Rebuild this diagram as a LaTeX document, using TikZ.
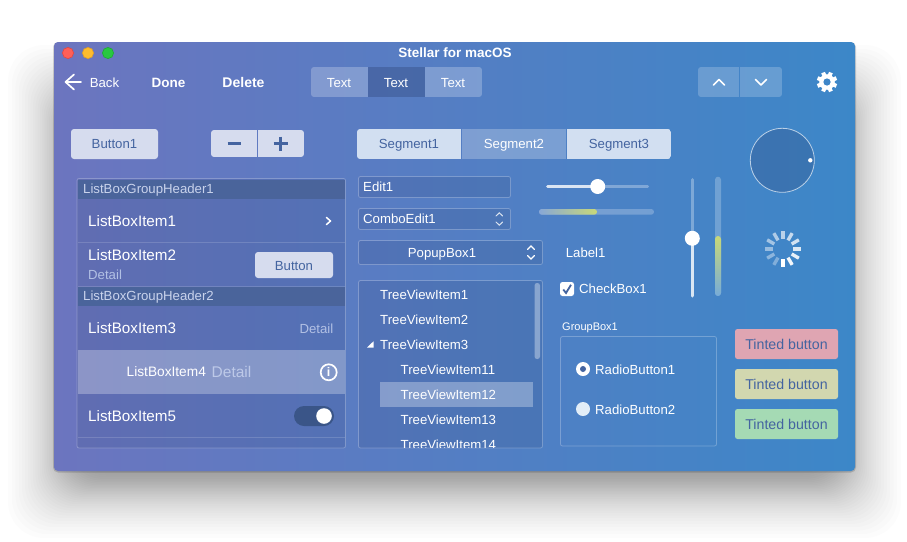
\documentclass[tikz,border=0pt]{standalone}
\usepackage{fontspec}
\setmainfont{Liberation Sans}
\usetikzlibrary{calc}

\definecolor{winleft}{RGB}{108,117,191}
\definecolor{winright}{RGB}{60,135,200}
\definecolor{inkblue}{RGB}{68,100,160}
\definecolor{paleface}{RGB}{214,220,238}
\definecolor{paleseg}{RGB}{210,223,241}
\definecolor{dimtext}{RGB}{178,192,228}
\definecolor{headfill}{RGB}{74,100,155}
\definecolor{limegreen}{RGB}{200,216,120}
\definecolor{duskfill}{RGB}{45,65,115}

\tikzset{
	txt/.style={inner sep=0pt,text=white,font=\fontsize{15.2}{17}\selectfont},
	txtsmall/.style={inner sep=0pt,text=white,font=\fontsize{13.2}{15}\selectfont},
	txtink/.style={txtsmall,text=inkblue},
	txtdim/.style={txtsmall,text=dimtext},
	txthead/.style={txtsmall,text=dimtext!70!white},
	txttiny/.style={inner sep=0pt,text=white,font=\fontsize{11}{12}\selectfont},
	txtbold/.style={inner sep=0pt,text=white,font=\fontsize{13.5}{15}\selectfont\bfseries},
	panel/.style={fill=duskfill,fill opacity=.16,draw=white,draw opacity=.25,line width=.8pt,rounded corners=2pt},
	rule/.style={draw=white,draw opacity=.15,line width=.7pt},
	stroke/.style={white,line width=1.5pt,line cap=round,line join=round},
	knob/.style={circle,fill=white,inner sep=0pt,minimum size=15pt},
}

\begin{document}
\begin{tikzpicture}[x=1pt,y=-1pt]

\useasboundingbox (0,0) rectangle (907,541);
\fill[white] (0,0) rectangle (907,541);

% soft shadow under the window
\foreach \i in {0,...,44}
{
	\pgfmathsetmacro{\u}{2*\i/44-1}
	\pgfmathsetmacro{\d}{32*\u+18*\u*\u*\u}
	\fill[black,opacity=.0118,rounded corners=36pt] ({58-\d},{95-\d}) rectangle ({851+\d},{488+\d});
}
\fill[black,opacity=.15,rounded corners=5pt] (53,42) rectangle (856,472.5);

% window
\shade[rounded corners=4pt,left color=winleft,right color=winright] (54,42) rectangle (855,471);
\foreach \x/\col/\edge in {68/255 95 87/225 70 65,88/254 188 46/225 160 40,108/40 200 64/30 170 50}
{
	\definecolor{tmpfill}{RGB}{\col}
	\definecolor{tmpedge}{RGB}{\edge}
	\fill[tmpfill,draw=tmpedge,line width=.6pt] (\x,53) circle (5.6);
}
\node[txtbold,anchor=base] (title) at (455,57.5) {Stellar for macOS};

% toolbar
\draw[stroke,line width=1.7pt] (81,82) -- (65.5,82) (74,74.5) -- (65.5,82) -- (74,89.5);
\node[txtsmall,anchor=base] (back) at (104.5,87) {Back};
\node[txtbold,anchor=base] (done) at (168.5,87) {Done};
\node[txtbold,font=\fontsize{14}{15}\selectfont\bfseries,anchor=base] (delete) at (243.5,87) {Delete};

\begin{scope}
\clip[rounded corners=3pt] (311,67) rectangle (482,97);
\fill[white,opacity=.24] (311,67) rectangle (367.5,97);
\fill[duskfill,opacity=.35] (368,67) rectangle (424.5,97);
\fill[white,opacity=.24] (425,67) rectangle (482,97);
\end{scope}
\foreach \x/\n in {339/a,396/b,453/c}
	\node[txtsmall,anchor=base] (text\n) at (\x,87) {Text};

\begin{scope}
\clip[rounded corners=3pt] (698,67) rectangle (782,97);
\fill[white,opacity=.2] (698,67) rectangle (739,97);
\fill[white,opacity=.2] (739.7,67) rectangle (782,97);
\end{scope}
\draw[stroke] (713.5,85) -- (719,79.5) -- (724.5,85);
\draw[stroke] (755.5,79.5) -- (761,85) -- (766.5,79.5);

% gear
\foreach \a in {0,45,...,315}
{
	\draw[white,line width=4pt] (827,82) -- ++(\a+22.5:10.2);
}
\fill[white] (827,82) circle (7.8);
\fill[winright!96!winleft] (827,82) circle (3.6);

% first row
\fill[paleface,rounded corners=3pt] (71,129) rectangle (158,159);
\node[txtink,anchor=base] (button1) at (114.5,148.5) {Button1};

\begin{scope}
\clip[rounded corners=3pt] (211,130) rectangle (304,157);
\fill[paleface] (211,130) rectangle (257,157);
\fill[paleface] (257.7,130) rectangle (304,157);
\end{scope}
\draw[inkblue,line width=3pt] (227.5,143.5) -- (241,143.5);
\draw[inkblue,line width=3pt] (273.5,143.5) -- (287.5,143.5) (280.5,136.5) -- (280.5,150.5);

\begin{scope}
\clip[rounded corners=3pt] (357,129) rectangle (671,159);
\fill[paleseg] (357,129) rectangle (461,159);
\fill[white,opacity=.25] (461.7,129) rectangle (566.3,159);
\fill[paleseg] (567,129) rectangle (671,159);
\end{scope}
\node[txtink,anchor=base] (segment1) at (409,148.5) {Segment1};
\node[txtsmall,anchor=base] (segment2) at (514,148.5) {Segment2};
\node[txtink,anchor=base] (segment3) at (619,148.5) {Segment3};

% list box
\draw[panel] (77,178.5) rectangle (345.5,448);
\fill[headfill] (78,179.5) rectangle (345,199);
\fill[headfill] (78,287) rectangle (345,306);
\node[txthead,anchor=base west] (header1) at (83,193.5) {ListBoxGroupHeader1};
\node[txthead,anchor=base west] (header2) at (83,300.5) {ListBoxGroupHeader2};
\foreach \y in {242.5,286.5,437.5}
	\draw[rule] (78,\y) -- (345,\y);
\fill[white,opacity=.28] (78,350) rectangle (344.5,394);

\node[txt,anchor=base west] (item1) at (88,226) {ListBoxItem1};
\draw[stroke] (326.5,217.5) -- (330.5,221) -- (326.5,224.5);
\node[txt,anchor=base west] (item2) at (88,260) {ListBoxItem2};
\node[txtdim,anchor=base west] (detail2) at (88,279) {Detail};
\fill[paleface,rounded corners=3pt] (255,252) rectangle (333,278);
\node[txtink,anchor=base] (button2) at (294,270) {Button};
\node[txt,anchor=base west] (item3) at (88,333) {ListBoxItem3};
\node[txtdim,anchor=base east] (detail3) at (333.5,333) {Detail};
\node[txtsmall,font=\fontsize{13.7}{15}\selectfont,anchor=base west] (item4) at (126.5,376.8) {ListBoxItem4};
\node[txt,text=dimtext!85!white,font=\fontsize{15.5}{17}\selectfont,anchor=base west] (detail4) at (211.5,377.5) {Detail};
\draw[white,line width=1.7pt] (328.7,372.3) circle (8);
\node[txtbold,font=\fontsize{12.5}{13}\selectfont\bfseries,anchor=base] (info) at (328.7,376.8) {i};
\node[txt,anchor=base west] (item5) at (88,421) {ListBoxItem5};
\fill[inkblue!85!black,rounded corners=10pt] (294,406) rectangle (334,426);
\fill[white] (324,416) circle (7.8);

% edits
\draw[panel] (358.5,176.5) rectangle (510.5,197.5);
\node[txtsmall,anchor=base west] (edit1) at (363,191.5) {Edit1};
\draw[panel] (358.5,208.5) rectangle (510.5,229.5);
\node[txtsmall,anchor=base west] (comboedit1) at (363,223.5) {ComboEdit1};
\draw[white,opacity=.8,line width=1pt,line cap=round] (496,216) -- (499.3,212.8) -- (502.6,216) (496,222) -- (499.3,225.2) -- (502.6,222);
\draw[panel] (358.5,240.5) rectangle (542.5,264.5);
\node[txtsmall,anchor=base] (popupbox1) at (442,257) {PopupBox1};
\draw[white,line width=1.2pt,line cap=round] (527.5,249.5) -- (531,246) -- (534.5,249.5) (527.5,255.5) -- (531,259) -- (534.5,255.5);

% tree view
\draw[panel] (358.5,280.5) rectangle (542.5,448);
\fill[white,opacity=.3] (380,382) rectangle (533,407);
\fill[white,opacity=.35,rounded corners=2.5pt] (534.5,283) rectangle (540,359);
\fill[white] (373.5,341.3) -- (373.5,347.5) -- (367,347.5) -- cycle;
\begin{scope}
\clip (359,281) rectangle (542,447.5);
\foreach \y/\n in {299/1,324/2,349/3}
	\node[txtsmall,anchor=base west] (tree\n) at (380,\y) {TreeViewItem\n};
\foreach \y/\n in {374/11,399/12,424/13,449/14}
	\node[txtsmall,anchor=base west] (tree\n) at (400.5,\y) {TreeViewItem\n};
\end{scope}

% sliders
\draw[white,opacity=.3,line width=3pt,line cap=round] (598,186.5) -- (647.5,186.5);
\draw[white,opacity=.8,line width=3pt,line cap=round] (547.5,186.5) -- (598,186.5);
\node[knob] (hknob) at (597.7,186.5) {};
\fill[white,opacity=.24,rounded corners=2.8pt] (539,209) rectangle (654,214.7);
\shade[rounded corners=2.8pt,left color=winright!55!white!70!winleft,right color=limegreen] (539,209) rectangle (597,214.7);

\draw[white,opacity=.3,line width=3pt,line cap=round] (692.3,179.5) -- (692.3,238);
\draw[white,opacity=.8,line width=3pt,line cap=round] (692.3,238) -- (692.3,296);
\node[knob] (vknob) at (692.3,238.3) {};
\fill[white,opacity=.24,rounded corners=3pt] (715,176.7) rectangle (721,296);
\shade[rounded corners=3pt,top color=limegreen,bottom color=winright!70!white] (715,236) rectangle (721,296);

% dial and spinner
\fill[duskfill,opacity=.25] (782.3,160.3) circle (32);
\draw[white,opacity=.65,line width=.8pt] (782.3,160.3) circle (32);
\fill[white] (810.3,160.3) circle (2.2);
\foreach \i in {0,...,11}
{
	\pgfmathsetmacro{\ang}{90-30*\i}
	\pgfmathsetmacro{\lev}{1-.06*\i}
	\draw[white,opacity=\lev,line width=3.4pt] (783,249) ++(\ang:10) -- ++(\ang:8.3);
}

% label and checkbox
\node[txtsmall,anchor=base] (label1) at (585.7,257) {Label1};
\fill[white,rounded corners=2.5pt] (560,282) rectangle (574,296);
\draw[inkblue,line width=1.8pt] (563.3,289.5) -- (566,293) -- (571,284.8);
\node[txtsmall,anchor=base west] (checkbox1) at (579,293.5) {CheckBox1};

% group box
\node[txttiny,anchor=base west] (groupbox1) at (562,330) {GroupBox1};
\draw[white,opacity=.25,line width=.8pt,rounded corners=2pt] (560.5,336.5) rectangle (716.5,446);
\fill[white] (583,369) circle (7);
\fill[inkblue] (583,369) circle (3);
\node[txtsmall,anchor=base west] (radio1) at (595,374) {RadioButton1};
\fill[white!85!winright] (583,409) circle (7);
\node[txtsmall,anchor=base west] (radio2) at (595,414) {RadioButton2};

% tinted buttons
\definecolor{tintone}{RGB}{223,165,178}
\definecolor{tinttwo}{RGB}{210,215,175}
\definecolor{tintthree}{RGB}{165,218,180}
\foreach \y/\col/\n in {329/tintone/a,369/tinttwo/b,409/tintthree/c}
{
	\fill[\col,rounded corners=2.5pt] (735,\y) rectangle (838,\y+30);
	\node[txtink,font=\fontsize{14.2}{15}\selectfont,anchor=base] (tinted\n) at (786.5,\y+20) {Tinted button};
}

\end{tikzpicture}
\end{document}
